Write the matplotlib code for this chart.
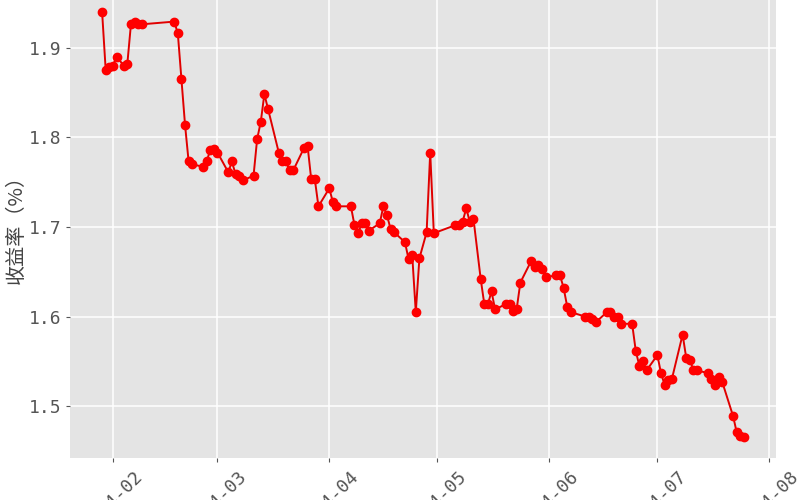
import matplotlib
matplotlib.use("Agg")
import matplotlib.pyplot as plt
import matplotlib.dates as mdates
import pandas as pd

# trading days (incl. weekend make-up days) and yields
dates = [
    "2024-01-29", "2024-01-30", "2024-01-31", "2024-02-01", "2024-02-02",
    "2024-02-04", "2024-02-05", "2024-02-06", "2024-02-07", "2024-02-08",
    "2024-02-09", "2024-02-18", "2024-02-19", "2024-02-20", "2024-02-21",
    "2024-02-22", "2024-02-23", "2024-02-26", "2024-02-27", "2024-02-28",
    "2024-02-29", "2024-03-01", "2024-03-04", "2024-03-05", "2024-03-06",
    "2024-03-07", "2024-03-08", "2024-03-11", "2024-03-12", "2024-03-13",
    "2024-03-14", "2024-03-15", "2024-03-18", "2024-03-19", "2024-03-20",
    "2024-03-21", "2024-03-22", "2024-03-25", "2024-03-26", "2024-03-27",
    "2024-03-28", "2024-03-29", "2024-04-01", "2024-04-02", "2024-04-03",
    "2024-04-07", "2024-04-08", "2024-04-09", "2024-04-10", "2024-04-11",
    "2024-04-12", "2024-04-15", "2024-04-16", "2024-04-17", "2024-04-18",
    "2024-04-19", "2024-04-22", "2024-04-23", "2024-04-24", "2024-04-25",
    "2024-04-26", "2024-04-28", "2024-04-29", "2024-04-30", "2024-05-06",
    "2024-05-07", "2024-05-08", "2024-05-09", "2024-05-10", "2024-05-11",
    "2024-05-13", "2024-05-14", "2024-05-15", "2024-05-16", "2024-05-17",
    "2024-05-20", "2024-05-21", "2024-05-22", "2024-05-23", "2024-05-24",
    "2024-05-27", "2024-05-28", "2024-05-29", "2024-05-30", "2024-05-31",
    "2024-06-03", "2024-06-04", "2024-06-05", "2024-06-06", "2024-06-07",
    "2024-06-11", "2024-06-12", "2024-06-13", "2024-06-14", "2024-06-17",
    "2024-06-18", "2024-06-19", "2024-06-20", "2024-06-21", "2024-06-24",
    "2024-06-25", "2024-06-26", "2024-06-27", "2024-06-28", "2024-07-01",
    "2024-07-02", "2024-07-03", "2024-07-04", "2024-07-05", "2024-07-08",
    "2024-07-09", "2024-07-10", "2024-07-11", "2024-07-12", "2024-07-15",
    "2024-07-16", "2024-07-17", "2024-07-18", "2024-07-19", "2024-07-22",
    "2024-07-23", "2024-07-24", "2024-07-25",
]
yields = [
    1.940, 1.875, 1.878, 1.880, 1.890,
    1.880, 1.882, 1.926, 1.929, 1.926,
    1.926, 1.929, 1.916, 1.865, 1.814,
    1.773, 1.770, 1.767, 1.773, 1.786,
    1.787, 1.783, 1.761, 1.773, 1.759,
    1.757, 1.752, 1.757, 1.798, 1.817,
    1.848, 1.832, 1.783, 1.773, 1.773,
    1.763, 1.763, 1.788, 1.790, 1.753,
    1.753, 1.723, 1.743, 1.728, 1.723,
    1.723, 1.702, 1.693, 1.704, 1.704,
    1.696, 1.704, 1.723, 1.713, 1.698,
    1.694, 1.683, 1.664, 1.669, 1.605,
    1.665, 1.694, 1.783, 1.693, 1.702,
    1.702, 1.706, 1.721, 1.705, 1.709,
    1.642, 1.614, 1.614, 1.628, 1.608,
    1.614, 1.614, 1.606, 1.609, 1.638,
    1.662, 1.655, 1.657, 1.653, 1.644,
    1.646, 1.646, 1.632, 1.611, 1.605,
    1.600, 1.599, 1.597, 1.594, 1.605,
    1.605, 1.600, 1.600, 1.592, 1.592,
    1.562, 1.545, 1.550, 1.540, 1.557,
    1.537, 1.524, 1.529, 1.530, 1.580,
    1.554, 1.552, 1.540, 1.540, 1.537,
    1.530, 1.524, 1.533, 1.527, 1.489,
    1.471, 1.467, 1.466,
]
y_ticks = [1.5, 1.6, 1.7, 1.8, 1.9]
month_ticks = ["2024-02-01", "2024-03-01", "2024-04-01", "2024-05-01",
               "2024-06-01", "2024-07-01", "2024-08-01"]

plt.rcParams['font.family'] = ['Noto Sans CJK SC', 'DejaVu Sans']

x = pd.to_datetime(dates)

fig = plt.figure(figsize=(8, 5), dpi=100)
# plot panel runs a little past the top edge, like the cropped original
ax = fig.add_axes([0.0875, 0.084, 0.8825, 0.935])
ax.set_facecolor('#E4E4E4')
for s in ax.spines.values():
    s.set_visible(False)

ax.plot(x, yields, color='#E00000', linewidth=1.4, marker='o', markersize=6,
        markeredgecolor='red', markerfacecolor='red', zorder=3)

ax.margins(x=0.05, y=0.05)
ax.set_yticks(y_ticks)
ax.set_xticks(pd.to_datetime(month_ticks))
ax.xaxis.set_major_formatter(mdates.DateFormatter('%Y-%m'))
ax.grid(True, color='white', linewidth=1.1)
ax.set_axisbelow(True)

ax.tick_params(colors='#555555', length=3, width=0.8, labelsize=13)
for lbl in ax.get_yticklabels():
    lbl.set_family('DejaVu Sans Mono')
for lbl in ax.get_xticklabels():
    lbl.set_family('DejaVu Sans Mono')
    lbl.set_rotation(45)
    lbl.set_ha('center')
    lbl.set_va('top')

ax.set_ylabel('收益率（%）', fontsize=14.5, color='#444444', labelpad=1)

fig.savefig('out.png', dpi=100)
